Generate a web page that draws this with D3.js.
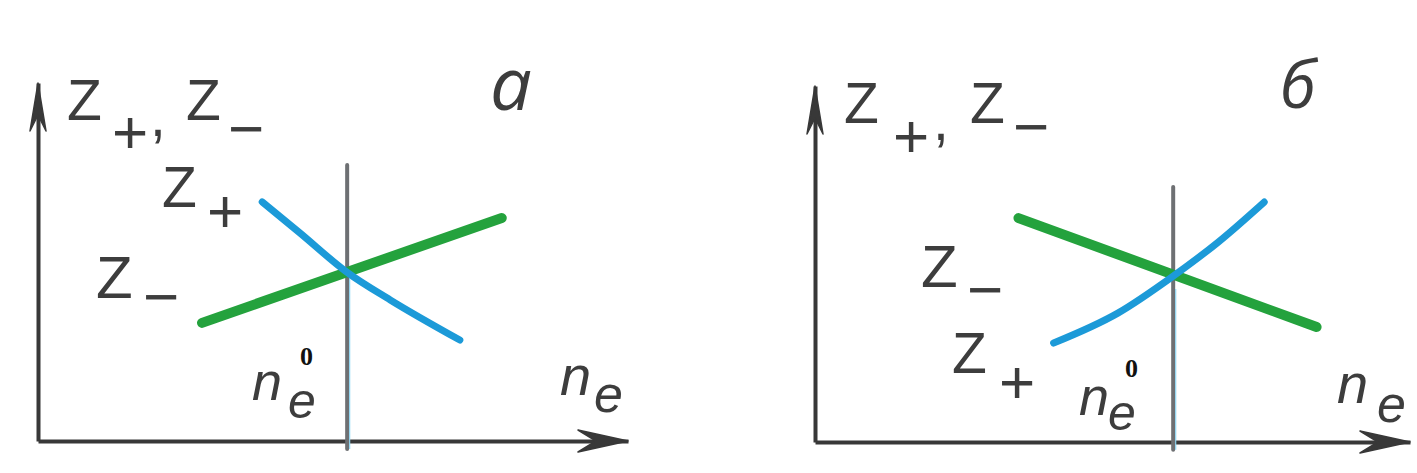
<!DOCTYPE html>
<html>
<head>
<meta charset="utf-8">
<script src="https://cdn.jsdelivr.net/npm/d3@7"></script>
<style>
  html, body { margin: 0; padding: 0; background: #ffffff; }
  svg { display: block; }
  .lbl { font-family: "Liberation Sans", Arial, sans-serif; fill: #3d3d3d; }
</style>
</head>
<body>
<svg id="chart" width="1417" height="473"></svg>
<script>
// Panel letters
const panelNames = ["а", "б"];

// Axis domain (arbitrary units) shared by both panels
const axisDomainX = [0, 10];
const axisDomainY = [0, 10];

// Panel а: Z+ falls, Z− rises with electron density n_e
const neA      = [3.80, 4.44, 5.24, 5.97, 7.15];
const zPlusA   = [6.68, 5.81, 4.71, 3.94, 2.82];
const neMinusA = [2.78, 7.86];
const zMinusA  = [3.30, 6.23];

// Panel б: Z+ rises, Z− falls
const neB      = [4.01, 5.09, 6.02, 6.78, 7.55];
const zPlusB   = [2.78, 3.62, 4.66, 5.62, 6.74];
const neMinusB = [3.42, 8.43];
const zMinusB  = [6.29, 3.23];

// Equilibrium density n_e^0 and extent of its marker line (in y units)
const ne0      = [5.24, 6.02];
const ne0Top   = [7.71, 7.16];
const ne0Bot   = -0.22;

const svg = d3.select("#chart");

const panels = [
  { name: panelNames[0], xr: [38, 628],  yr: [441, 83],
    zp: neA.map((x, i) => [x, zPlusA[i]]), zm: neMinusA.map((x, i) => [x, zMinusA[i]]),
    n0: ne0[0], n0top: ne0Top[0] },
  { name: panelNames[1], xr: [815, 1410], yr: [442, 86],
    zp: neB.map((x, i) => [x, zPlusB[i]]), zm: neMinusB.map((x, i) => [x, zMinusB[i]]),
    n0: ne0[1], n0top: ne0Top[1] }
];

const axisColor = "#383838";
const green = "#24a23d";
const blue = "#1c9ad8";

panels.forEach(p => {
  const x = d3.scaleLinear().domain(axisDomainX).range(p.xr);
  const y = d3.scaleLinear().domain(axisDomainY).range(p.yr);
  const g = svg.append("g");

  // Axes: bare domain lines, no ticks
  const ax = g.append("g").attr("transform", `translate(0,${y(0)})`)
    .call(d3.axisBottom(x).tickValues([]).tickSizeOuter(0));
  const ay = g.append("g").attr("transform", `translate(${x(0)},0)`)
    .call(d3.axisLeft(y).tickValues([]).tickSizeOuter(0));
  [ax, ay].forEach(a => a.select(".domain")
    .attr("stroke", axisColor).attr("stroke-width", 4));

  // Arrowheads at the axis ends
  const tx = x(axisDomainX[1]), ty = y(0);
  g.append("path")
    .attr("d", `M${tx},${ty} L${tx - 50},${ty - 11} L${tx - 32},${ty} L${tx - 50},${ty + 11} Z`)
    .attr("fill", axisColor).attr("stroke", axisColor).attr("stroke-width", 1.5)
    .attr("stroke-linejoin", "round");
  const vx = x(0), vy = y(axisDomainY[1]);
  g.append("path")
    .attr("d", `M${vx},${vy} L${vx - 8},${vy + 48} L${vx},${vy + 32} L${vx + 8},${vy + 48} Z`)
    .attr("fill", axisColor).attr("stroke", axisColor).attr("stroke-width", 1.5)
    .attr("stroke-linejoin", "round");

  // n_e^0 marker line
  g.append("line")
    .attr("x1", x(p.n0)).attr("x2", x(p.n0))
    .attr("y1", y(p.n0top)).attr("y2", y(ne0Bot))
    .attr("stroke", "#6e7073").attr("stroke-width", 4).attr("stroke-linecap", "round");
  g.append("line")
    .attr("x1", x(p.n0) + 2.5).attr("x2", x(p.n0) + 2.5)
    .attr("y1", y(p.n0top * 0.6)).attr("y2", y(ne0Bot))
    .attr("stroke", "#8fd6f2").attr("stroke-width", 1.2);

  const straight = d3.line().x(d => x(d[0])).y(d => y(d[1]));
  const smooth = d3.line().x(d => x(d[0])).y(d => y(d[1])).curve(d3.curveMonotoneX);

  // Z− (green) and Z+ (blue)
  g.append("path").attr("d", straight(p.zm))
    .attr("fill", "none").attr("stroke", green).attr("stroke-width", 10)
    .attr("stroke-linecap", "round");
  g.append("path").attr("d", smooth(p.zp))
    .attr("fill", "none").attr("stroke", blue).attr("stroke-width", 7)
    .attr("stroke-linecap", "round");
});

// Text labels: each label is one text element built from positioned pieces
const serif = '"Liberation Serif", "Times New Roman", serif';
const open = '"Open Sans", sans-serif';

function label(pieces) {
  const t = svg.append("text").attr("class", "lbl");
  pieces.forEach(([s, px, py, size, o = {}]) => {
    t.append("tspan")
      .attr("x", px).attr("y", py)
      .attr("font-size", size)
      .attr("font-style", o.italic ? "italic" : null)
      .attr("font-weight", o.bold ? "bold" : null)
      .style("font-family", o.family || null)
      .style("fill", o.fill || null)
      .text(s);
  });
}
const zero = { bold: true, family: serif, fill: "#111" };
const it = { italic: true };

// Panel а
label([["Z", 67, 120, 57], ["+", 112, 153, 62], [",", 150, 136, 57], ["Z", 186, 120, 57], ["−", 228, 150, 62]]);
label([["Z", 162, 207, 57], ["+", 207, 232, 62]]);
label([["Z", 96, 298, 60], ["−", 143, 318, 62]]);
label([["n", 252, 400, 54, it], ["e", 288, 418, 50, it], ["0", 300, 365, 26, zero]]);
label([["n", 560, 395, 56, it], ["e", 594, 412, 52, it]]);
label([[panelNames[0], 490, 110, 74, { italic: true, family: open }]]);

// Panel б
label([["Z", 844, 123, 57], ["+", 893, 157, 62], [",", 933, 140, 57], ["Z", 970, 123, 57], ["−", 1013, 148, 62]]);
label([["Z", 921, 287, 60], ["−", 967, 311, 62]]);
label([["Z", 952, 373, 57], ["+", 999, 403, 62]]);
label([["n", 1079, 415, 54, it], ["e", 1108, 430, 50, it], ["0", 1125, 377, 26, zero]]);
label([["n", 1337, 403, 56, it], ["e", 1377, 422, 52, it]]);
label([[panelNames[1], 1280, 108, 66, { italic: true, family: open }]]);
</script>
</body>
</html>
